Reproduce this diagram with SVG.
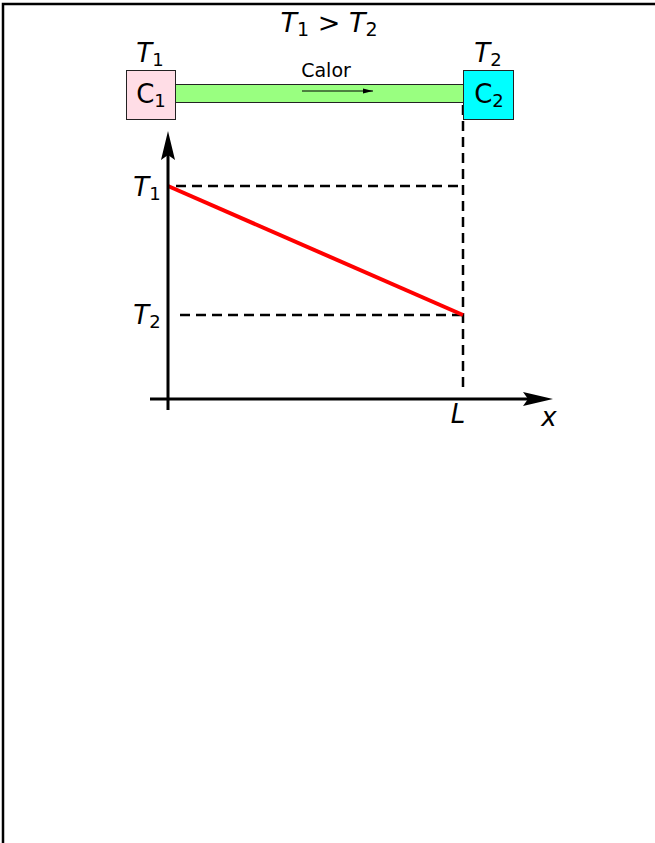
<svg xmlns="http://www.w3.org/2000/svg" width="655" height="843" viewBox="0 0 655 843">
<style>
text{font-family:"DejaVu Sans","Liberation Sans",sans-serif;fill:#000}
.it{font-style:italic}
.dash{stroke:#000;stroke-width:2.5;stroke-dasharray:10,6;fill:none}
.box{stroke:#222;stroke-width:1}
.ax{stroke:#000;stroke-width:3;fill:none}
</style>
<defs>
<marker id="ah" markerWidth="10" markerHeight="6" refX="10" refY="3" orient="auto" markerUnits="userSpaceOnUse"><path d="M0,0.5 L10,3 L0,5.5 Z" fill="#000"/></marker>
</defs>
<rect x="0" y="0" width="655" height="843" fill="#fff"/>
<path d="M3,843 V4 H655" fill="none" stroke="#000" stroke-width="2.5"/>
<text x="329" y="32" font-size="27" text-anchor="middle"><tspan class="it">T</tspan><tspan font-size="19" dy="4">1</tspan><tspan dy="-4"> &gt; </tspan><tspan class="it">T</tspan><tspan font-size="19" dy="4">2</tspan></text>
<g id="connectors">
<line class="dash" x1="463" y1="105" x2="463" y2="392"/>
<line class="dash" x1="176" y1="186" x2="463" y2="186"/>
<line class="dash" x1="180" y1="315" x2="463" y2="315"/>
<line x1="168" y1="186" x2="463" y2="315" stroke="#f00" stroke-width="4"/>
<line class="ax" x1="168" y1="410" x2="168" y2="150"/>
<path d="M168,131 L175,160 L168,155 L161,160 Z" fill="#000"/>
<line class="ax" x1="150" y1="399" x2="535" y2="399"/>
<path d="M553,399 L523,406 L528,399 L523,392 Z" fill="#000"/>
</g>
<g id="bar">
<rect class="box" x="175.5" y="84.5" width="288" height="18" fill="#99ff80"/>
<text x="326" y="77" font-size="19" text-anchor="middle">Calor</text>
<line x1="302" y1="91" x2="373" y2="91" stroke="#000" stroke-width="1" marker-end="url(#ah)"/>
</g>
<g id="C1">
<rect class="box" x="126.5" y="70.5" width="49" height="49" fill="#ffdde6"/>
<text x="151" y="103" font-size="26" text-anchor="middle">C<tspan font-size="18" dy="4">1</tspan></text>
<text x="150" y="62" font-size="26" text-anchor="middle"><tspan class="it">T</tspan><tspan font-size="18" dy="4">1</tspan></text>
</g>
<g id="C2">
<rect class="box" x="463.5" y="70.5" width="50" height="49" fill="#00ffff"/>
<text x="489" y="103" font-size="26" text-anchor="middle">C<tspan font-size="18" dy="4">2</tspan></text>
<text x="488" y="62" font-size="26" text-anchor="middle"><tspan class="it">T</tspan><tspan font-size="18" dy="4">2</tspan></text>
</g>
<g id="labels">
<text x="147" y="196" font-size="26" text-anchor="middle"><tspan class="it">T</tspan><tspan font-size="18" dy="4">1</tspan></text>
<text x="147" y="324" font-size="26" text-anchor="middle"><tspan class="it">T</tspan><tspan font-size="18" dy="4">2</tspan></text>
<text x="458" y="423" font-size="26" text-anchor="middle" class="it">L</text>
<text x="549" y="426" font-size="26" text-anchor="middle" class="it">x</text>
</g>
</svg>
